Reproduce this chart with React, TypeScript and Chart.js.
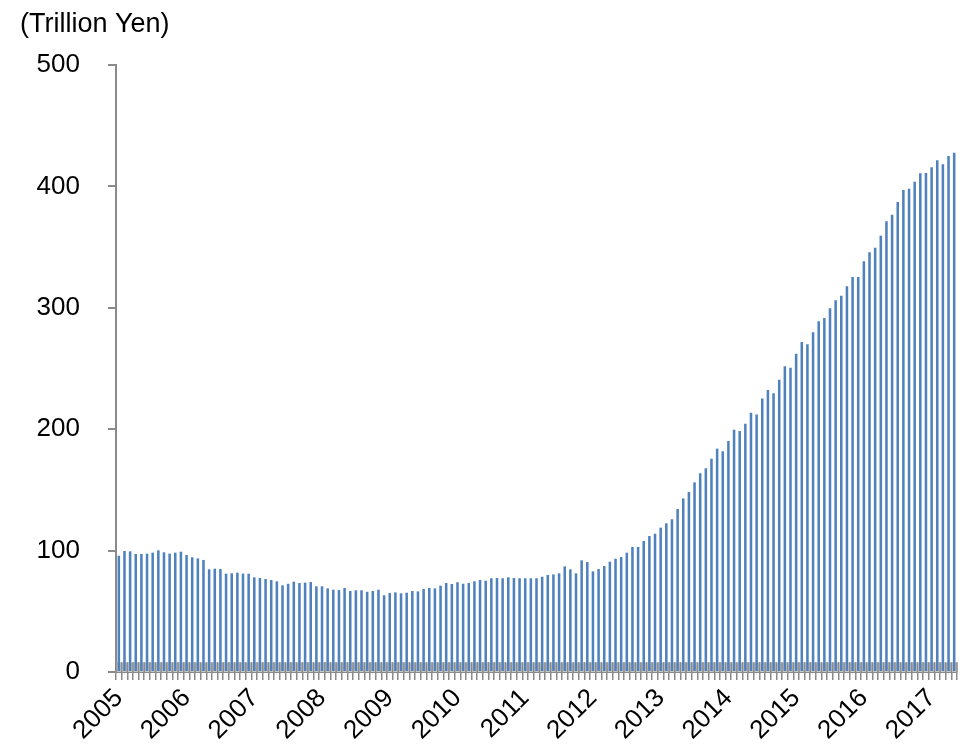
import React, { useEffect, useRef } from 'react';
import { Chart, registerables } from 'chart.js';

Chart.register(...registerables);

const YEARS = ['2005', '2006', '2007', '2008', '2009', '2010', '2011', '2012', '2013', '2014', '2015', '2016', '2017'];
const MONTHS = ['Jan', 'Feb', 'Mar', 'Apr', 'May', 'Jun', 'Jul', 'Aug', 'Sep', 'Oct', 'Nov', 'Dec'];

// Monthly values, Jan 2005 - May 2017 (trillion yen)
const HOLDINGS = [
  95.8, 99.7, 99.4, 97.2, 97.2, 97.5, 98.3, 100.2, 98.6, 97.5, 98.3, 99.1,
  96.4, 94.5, 93.6, 92.3, 84.6, 85.1, 84.8, 81.0, 81.3, 81.8, 81.0, 81.0,
  78.0, 77.4, 76.6, 75.8, 74.7, 71.4, 72.7, 74.4, 73.3, 73.6, 74.1, 70.6,
  70.6, 68.9, 67.8, 67.5, 69.2, 66.7, 67.3, 67.3, 66.1, 66.7, 67.8, 63.2,
  65.1, 65.6, 64.8, 65.3, 66.7, 66.4, 68.4, 69.2, 68.9, 71.1, 73.3, 72.5,
  73.9, 72.7, 73.3, 74.7, 75.8, 75.2, 77.2, 77.4, 77.2, 78.0, 77.4, 77.2,
  77.2, 77.2, 77.2, 78.5, 79.9, 80.4, 81.3, 87.0, 84.6, 81.3, 92.0, 90.6,
  82.9, 84.8, 87.3, 90.9, 93.3, 94.7, 98.3, 103.0, 103.0, 107.9, 112.0, 113.9,
  118.9, 122.5, 125.8, 134.3, 143.0, 148.3, 156.2, 163.7, 167.8, 175.7, 184.0, 181.8,
  190.3, 199.6, 198.5, 204.5, 213.6, 212.2, 225.2, 232.3, 229.6, 240.8, 251.8, 250.7,
  262.2, 271.8, 269.9, 279.8, 288.9, 291.6, 299.6, 306.2, 310.0, 317.7, 325.4, 325.4,
  338.3, 345.7, 349.5, 359.4, 371.2, 376.7, 387.2, 397.0, 398.1, 403.9, 410.8, 411.0,
  415.7, 421.5, 418.2, 425.0, 427.8,
];

const Y_TICKS = [0, 100, 200, 300, 400, 500];
const UNIT_LABEL = '(Trillion Yen)';
const AXIS_BAND_TOP = 8;

const CATEGORIES = HOLDINGS.map((_, i) => `${YEARS[Math.floor(i / 12)]}-${MONTHS[i % 12]}`);

const FONT = '"Liberation Sans", Arial, sans-serif';
const AXIS_GRAY = '#8a8a8a';

const bandPlugin = {
  id: 'axisBand',
  beforeDatasetsDraw(chart: any) {
    const { ctx, chartArea, scales } = chart;
    const x = scales.x;
    const y = scales.y;
    const top = y.getPixelForValue(AXIS_BAND_TOP);
    const bottom = y.getPixelForValue(0);
    ctx.save();
    ctx.fillStyle = '#c6c6c6';
    ctx.fillRect(chartArea.left, top, chartArea.right - chartArea.left, bottom - top);
    const n = CATEGORIES.length;
    const w = (chartArea.right - chartArea.left) / n;
    ctx.strokeStyle = AXIS_GRAY;
    ctx.lineWidth = 1.5;
    for (let i = 0; i <= n; i++) {
      const px = i < n ? x.getPixelForValue(i) - w / 2 : x.getPixelForValue(n - 1) + w / 2;
      ctx.beginPath();
      ctx.moveTo(px, top);
      ctx.lineTo(px, bottom);
      ctx.stroke();
    }
    ctx.restore();
  },
};

const unitPlugin = {
  id: 'unitLabel',
  afterDraw(chart: any) {
    const { ctx } = chart;
    ctx.save();
    ctx.font = `27px ${FONT}`;
    ctx.fillStyle = '#000';
    ctx.textBaseline = 'alphabetic';
    ctx.textAlign = 'left';
    ctx.fillText(UNIT_LABEL, 12, 24);
    ctx.restore();
  },
};

export default function App() {
  const ref = useRef<HTMLCanvasElement | null>(null);

  useEffect(() => {
    if (!ref.current) return;
    const chart = new Chart(ref.current, {
      type: 'bar',
      data: {
        labels: CATEGORIES,
        datasets: [
          {
            data: HOLDINGS,
            backgroundColor: '#4f81bd',
            borderWidth: 0,
            barPercentage: 0.45,
            categoryPercentage: 1,
          },
        ],
      },
      options: {
        animation: false,
        responsive: true,
        maintainAspectRatio: false,
        layout: { padding: { top: 57, right: 5, left: 0, bottom: 0 } },
        plugins: {
          legend: { display: false },
          tooltip: { enabled: false },
          title: { display: false },
        },
        scales: {
          x: {
            grid: {
              display: true,
              drawOnChartArea: false,
              drawTicks: true,
              tickLength: 8,
              color: AXIS_GRAY,
              lineWidth: 1.5,
              offset: true,
            },
            border: { display: true, color: AXIS_GRAY, width: 2 },
            ticks: {
              autoSkip: false,
              maxRotation: 45,
              minRotation: 45,
              padding: 3,
              color: '#000',
              font: { family: FONT, size: 26 },
              callback: (_v: any, i: number) => (i % 12 === 0 ? YEARS[i / 12] : ''),
            },
            afterFit: (s: any) => {
              s.height = 72;
              s.paddingLeft = 0;
              s.paddingRight = 0;
            },
          },
          y: {
            min: 0,
            max: 500,
            grid: {
              display: true,
              drawOnChartArea: false,
              drawTicks: true,
              tickLength: 8,
              color: AXIS_GRAY,
              lineWidth: 2,
            },
            border: { display: true, color: AXIS_GRAY, width: 2 },
            ticks: {
              padding: 28,
              color: '#000',
              font: { family: FONT, size: 26 },
            },
            afterBuildTicks: (s: any) => {
              s.ticks = Y_TICKS.map((v) => ({ value: v }));
            },
            afterFit: (s: any) => {
              s.width = 108;
            },
          },
        },
      },
      plugins: [bandPlugin, unitPlugin],
    });
    return () => chart.destroy();
  }, []);

  return (
    <div style={{ position: 'relative', width: '100%', height: 736 }}>
      <canvas ref={ref} style={{ display: 'block' }} />
    </div>
  );
}
